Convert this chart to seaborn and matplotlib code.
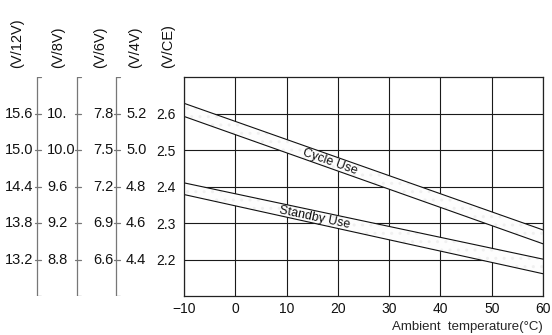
import numpy as np
import pandas as pd
import seaborn as sns
import matplotlib.pyplot as plt

# Data: charge voltage per cell vs ambient temperature
temps = [-10, 60]
cycle_upper = [2.628, 2.281]
cycle_lower = [2.592, 2.243]
standby_upper = [2.410, 2.201]
standby_lower = [2.378, 2.161]

# y scale levels (volts per cell) and the matching labels for other battery sizes
ce_levels = [2.6, 2.5, 2.4, 2.3, 2.2]
labels_12v = ["15.6", "15.0", "14.4", "13.8", "13.2"]
labels_8v = ["10.", "10.0", "9.6", "9.2", "8.8"]
labels_6v = ["7.8", "7.5", "7.2", "6.9", "6.6"]
labels_4v = ["5.2", "5.0", "4.8", "4.6", "4.4"]
labels_ce = ["2.6", "2.5", "2.4", "2.3", "2.2"]
headers = ["(V/12V)", "(V/8V)", "(V/6V)", "(V/4V)", "(V/CE)"]
x_ticks = [-10, 0, 10, 20, 30, 40, 50, 60]

df = pd.DataFrame({
    'temp': temps * 4,
    'volt': cycle_upper + cycle_lower + standby_upper + standby_lower,
    'line': ['cu'] * 2 + ['cl'] * 2 + ['su'] * 2 + ['sl'] * 2,
})

sns.set_theme(style='white')
plt.rcParams['font.family'] = ['Liberation Sans', 'DejaVu Sans']
plt.rcParams['font.size'] = 10

W, H = 552, 335
fig = plt.figure(figsize=(W / 100, H / 100), dpi=100)
left, right, top, bottom = 184, 543, 77, 296
ax = fig.add_axes([left / W, 1 - bottom / H, (right - left) / W, (bottom - top) / H])

# bands (very faint dotted fill)
ax.fill_between(temps, cycle_lower, cycle_upper, facecolor='#fdfdfd',
                hatch='..', edgecolor='#f0f0f0', linewidth=0)
ax.fill_between(temps, standby_lower, standby_upper, facecolor='#fdfdfd',
                hatch='..', edgecolor='#f0f0f0', linewidth=0)
sns.lineplot(data=df, x='temp', y='volt', units='line', estimator=None,
             color='#111111', linewidth=0.8, ax=ax, legend=False)

ax.set_xlim(-10, 60)
ax.set_ylim(2.1, 2.7)
ax.set_xticks(x_ticks)
ax.set_yticks(ce_levels)
ax.set_yticklabels(labels_ce)
ax.tick_params(axis='both', length=0, labelsize=10, colors='#111111')
ax.tick_params(axis='y', pad=6)
ax.tick_params(axis='x', pad=4)
ax.grid(True, color='#1a1a1a', linewidth=0.8)
for s in ax.spines.values():
    s.set_color('#222222')
    s.set_linewidth(0.9)
ax.set_ylabel('')
ax.set_xlabel('Ambient  temperature(°C)', loc='right', fontsize=9.5, labelpad=4)

ax.text(18.5, 2.468, 'Cycle Use', rotation=-19.5, ha='center', va='center',
        fontsize=9, color='#111111', rotation_mode='anchor')
ax.text(15.4, 2.316, 'Standby Use', rotation=-12, ha='center', va='center',
        fontsize=9, color='#111111', rotation_mode='anchor')

# left-hand scales for other voltages
lax = fig.add_axes([0, 1 - bottom / H, left / W, (bottom - top) / H], sharey=ax)
lax.set_xlim(0, left)
lax.axis('off')
for lx in [37, 77, 116]:
    lax.plot([lx, lx], [2.1, 2.7], color='#777777', lw=0.9)
    lax.plot([lx, lx + 4], [2.7, 2.7], color='#777777', lw=0.9)
    lax.plot([lx, lx + 4], [2.1, 2.1], color='#777777', lw=0.9)
    for lv in ce_levels:
        lax.plot([lx - 2, lx + 4], [lv, lv], color='#777777', lw=0.9)

for lv, a, b, c, d in zip(ce_levels, labels_12v, labels_8v, labels_6v, labels_4v):
    lax.text(33, lv, a, ha='right', va='center', fontsize=10.5, color='#111111')
    lax.text(47, lv, b, ha='left', va='center', fontsize=10.5, color='#111111')
    lax.text(113, lv, c, ha='right', va='center', fontsize=10.5, color='#111111')
    lax.text(126, lv, d, ha='left', va='center', fontsize=10.5, color='#111111')

for hx, hd in zip([17, 58, 100, 135, 168], headers):
    fig.text(hx / W, 1 - 68 / H, hd, rotation=90, ha='center', va='bottom',
             fontsize=10.5, color='#111111')

fig.savefig('out.png', dpi=100)
